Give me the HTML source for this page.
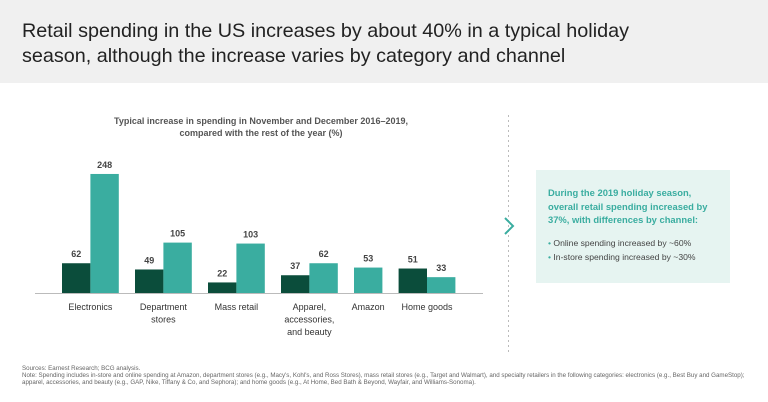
<!DOCTYPE html>
<html><head><meta charset="utf-8"><style>
body{margin:0;width:768px;height:402px;background:#fff;font-family:"Liberation Sans",sans-serif;position:relative;overflow:hidden}
.hdr{position:absolute;left:0;top:0;width:768px;height:83px;background:#f0f0f0}
.hdr h1{margin:0;position:absolute;left:22px;top:19px;font-size:19.8px;font-weight:normal;line-height:25px;color:#222}
.box{position:absolute;left:536px;top:170px;width:194px;height:113px;background:#e6f4f1}
.foot{position:absolute;left:22px;top:365px;font-size:6.2px;color:#666;line-height:7px;width:746px;white-space:nowrap}
</style></head><body>
<div class="hdr"><h1>Retail spending in the US increases by about 40% in a typical holiday<br>season, although the increase varies by category and channel</h1></div>
<svg width="768" height="402" style="position:absolute;left:0;top:0">
<text x="261" y="124" text-anchor="middle" font-size="9" font-weight="bold" fill="#555">Typical increase in spending in November and December 2016–2019,</text>
<text x="261" y="136" text-anchor="middle" font-size="9" font-weight="bold" fill="#555">compared with the rest of the year (%)</text>
<g id="bars"></g>
<line x1="35" y1="293.5" x2="483" y2="293.5" stroke="#bbb"/>
<line x1="508.5" y1="115" x2="508.5" y2="352" stroke="#bbb" stroke-dasharray="2,3"/>
<polyline points="505,218 513,226 505,234" fill="none" stroke="#3aada0" stroke-width="2"/>
</svg>
<div class="box">
<div style="position:absolute;left:12px;top:16px;font-size:9.4px;font-weight:bold;color:#3aada0;line-height:13.5px">During the 2019 holiday season,<br>overall retail spending increased by<br>37%, with differences by channel:</div>
<div style="position:absolute;left:12px;top:67px;font-size:8.6px;color:#444;line-height:13.5px"><span style="color:#3aada0">•</span> Online spending increased by ~60%<br><span style="color:#3aada0">•</span> In-store spending increased by ~30%</div>
</div>
<div class="foot">Sources: Earnest Research; BCG analysis.<br>Note: Spending includes in-store and online spending at Amazon, department stores (e.g., Macy's, Kohl's, and Ross Stores), mass retail stores (e.g., Target and Walmart), and specialty retailers in the following categories: electronics (e.g., Best Buy and GameStop);<br>apparel, accessories, and beauty (e.g., GAP, Nike, Tiffany &amp; Co, and Sephora); and home goods (e.g., At Home, Bed Bath &amp; Beyond, Wayfair, and Williams-Sonoma).</div>
<script>
const categories=["Electronics","Department|stores","Mass retail","Apparel,|accessories,|and beauty","Amazon","Home goods"];
const darkValues=[62,49,22,37,null,51];
const tealValues=[248,105,103,62,53,33];
const ns="http://www.w3.org/2000/svg";
const g=document.getElementById("bars");
const base=293,scale=0.48,bw=28.4,gap=16.2;
function y(v){return base-v*scale;}
function mk(t,a){const e=document.createElementNS(ns,t);for(const k in a)e.setAttribute(k,a[k]);g.appendChild(e);return e;}
let gx=62;
categories.forEach((c,i)=>{
 const hasDark=darkValues[i]!=null;
 const bars=hasDark?[[darkValues[i],"#0b4d3b",gx],[tealValues[i],"#3aada0",gx+bw]]:[[tealValues[i],"#3aada0",gx]];
 bars.forEach(([v,col,x])=>{
  const r=mk("rect",{x:x,y:y(v),width:bw,height:v*scale,fill:col});
  
  
  const t=mk("text",{x:x+bw/2,y:y(v)-6,"text-anchor":"middle","font-size":"9","font-weight":"bold",fill:"#444"});
  t.textContent=v;
  
  
 });
 const cx=hasDark?gx+bw:gx+bw/2;
 c.split("|").forEach((ln,k)=>{
  const t=mk("text",{x:cx,y:310+k*12.5,"text-anchor":"middle","font-size":"9",fill:"#333"});
  t.textContent=ln;
  
  
 });
 gx+=bars.length*bw+gap;
});
</script>
</body></html>
